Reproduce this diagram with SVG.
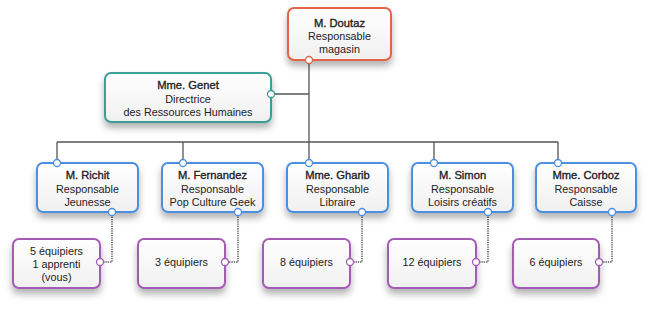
<svg xmlns="http://www.w3.org/2000/svg" width="669" height="309" viewBox="0 0 669 309">
<defs>
<linearGradient id="g" x1="0" y1="0" x2="0" y2="1"><stop offset="0" stop-color="#ffffff"/><stop offset="1" stop-color="#f1f0f1"/></linearGradient>
<filter id="sh" x="-10%" y="-10%" width="120%" height="150%"><feDropShadow dx="0" dy="5" stdDeviation="3.5" flood-color="#000" flood-opacity="0.3"/></filter>
</defs>
<style>
.b{fill:url(#g);stroke-width:2;filter:url(#sh)}
.o{stroke:#e4634a}.t{stroke:#3a9f95}.bl{stroke:#4b8fe0}.p{stroke:#a35cb3}
.d{fill:#fff;stroke-width:1.3}
text{font-family:"Liberation Sans",Arial,sans-serif;font-size:10.8px;fill:#222;text-anchor:middle}
.h{font-size:11.2px;stroke:#222;stroke-width:0.35}
.c{fill:none;stroke:#555;stroke-width:1.3}
.dt{fill:none;stroke:#555;stroke-width:1.4;stroke-dasharray:1.3 1}
</style>
<rect width="669" height="309" fill="#fff"/>
<g id="connectors">
<path class="c" d="M309 60V163M271 94H309M57 142H558M57 142V163M183 142V163M434 142V163M558 142V163"/>
<path class="dt" d="M112 212V262H100M238 212V262H225M362 212V262H350M488 212V262H476M612 212V262H599"/>
</g>
<g id="doutaz"><rect class="b o" x="288" y="8" width="103" height="52" rx="6"/>
<text class="h" x="339.5" y="27">M. Doutaz</text><text x="339.5" y="40">Responsable</text><text x="339.5" y="53">magasin</text>
<circle class="d o" cx="309" cy="60" r="3.5"/></g>
<g id="genet"><rect class="b t" x="105" y="73" width="166" height="49" rx="6"/>
<text class="h" x="188" y="89">Mme. Genet</text><text x="188" y="103">Directrice</text><text x="188" y="116">des Ressources Humaines</text>
<circle class="d t" cx="271" cy="94" r="3.5"/></g>
<g id="richit"><rect class="b bl" x="37" y="163" width="101" height="49" rx="6"/>
<text class="h" x="87.5" y="179">M. Richit</text><text x="87.5" y="193">Responsable</text><text x="87.5" y="206">Jeunesse</text>
<circle class="d bl" cx="57" cy="163" r="3.5"/><circle class="d bl" cx="112" cy="212" r="3.5"/></g>
<g id="fernandez"><rect class="b bl" x="162" y="163" width="101" height="49" rx="6"/>
<text class="h" x="212.5" y="179">M. Fernandez</text><text x="212.5" y="193">Responsable</text><text x="212.5" y="206">Pop Culture Geek</text>
<circle class="d bl" cx="183" cy="163" r="3.5"/><circle class="d bl" cx="238" cy="212" r="3.5"/></g>
<g id="gharib"><rect class="b bl" x="287" y="163" width="101" height="49" rx="6"/>
<text class="h" x="337.5" y="179">Mme. Gharib</text><text x="337.5" y="193">Responsable</text><text x="337.5" y="206">Libraire</text>
<circle class="d bl" cx="309" cy="163" r="3.5"/><circle class="d bl" cx="362" cy="212" r="3.5"/></g>
<g id="simon"><rect class="b bl" x="412" y="163" width="101" height="49" rx="6"/>
<text class="h" x="462.5" y="179">M. Simon</text><text x="462.5" y="193">Responsable</text><text x="462.5" y="206">Loisirs créatifs</text>
<circle class="d bl" cx="434" cy="163" r="3.5"/><circle class="d bl" cx="488" cy="212" r="3.5"/></g>
<g id="corboz"><rect class="b bl" x="536" y="163" width="100" height="49" rx="6"/>
<text class="h" x="586" y="179">Mme. Corboz</text><text x="586" y="193">Responsable</text><text x="586" y="206">Caisse</text>
<circle class="d bl" cx="558" cy="163" r="3.5"/><circle class="d bl" cx="612" cy="212" r="3.5"/></g>
<g id="eq1"><rect class="b p" x="13" y="239" width="87" height="49" rx="6"/>
<text x="56.5" y="255">5 équipiers</text><text x="56.5" y="268">1 apprenti</text><text x="56.5" y="281">(vous)</text>
<circle class="d p" cx="100" cy="262" r="3.5"/></g>
<g id="eq2"><rect class="b p" x="138" y="239" width="87" height="49" rx="6"/>
<text x="181.5" y="266">3 équipiers</text><circle class="d p" cx="225" cy="262" r="3.5"/></g>
<g id="eq3"><rect class="b p" x="263" y="239" width="87" height="49" rx="6"/>
<text x="306.5" y="266">8 équipiers</text><circle class="d p" cx="350" cy="262" r="3.5"/></g>
<g id="eq4"><rect class="b p" x="388" y="239" width="88" height="49" rx="6"/>
<text x="432" y="266">12 équipiers</text><circle class="d p" cx="476" cy="262" r="3.5"/></g>
<g id="eq5"><rect class="b p" x="513" y="239" width="86" height="49" rx="6"/>
<text x="556" y="266">6 équipiers</text><circle class="d p" cx="599" cy="262" r="3.5"/></g>
</svg>
